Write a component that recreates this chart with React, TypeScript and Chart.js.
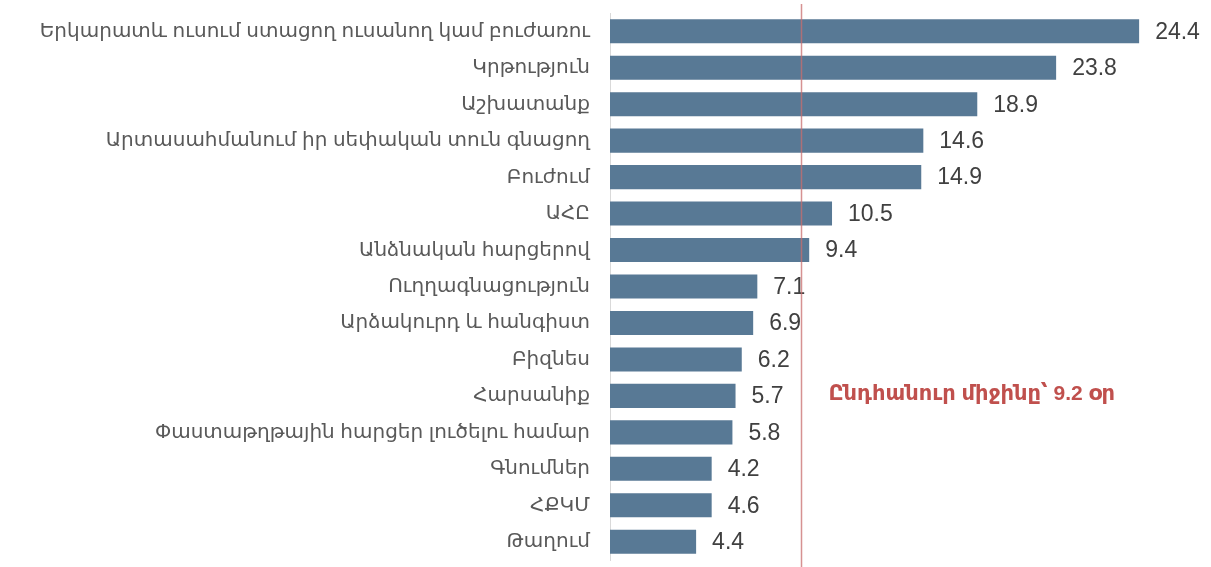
import React, { useEffect, useRef } from "react";
import { Chart, registerables } from "chart.js";

Chart.register(...registerables);

const categories = [
  "Երկարատև ուսում ստացող ուսանող կամ բուժառու",
  "Կրթություն",
  "Աշխատանք",
  "Արտասահմանում իր սեփական տուն գնացող",
  "Բուժում",
  "ԱՀԸ",
  "Անձնական հարցերով",
  "Ուղղագնացություն",
  "Արձակուրդ և հանգիստ",
  "Բիզնես",
  "Հարսանիք",
  "Փաստաթղթային հարցեր լուծելու համար",
  "Գնումներ",
  "ՀՔԿՄ",
  "Թաղում",
];

// bar lengths as drawn in the picture
const barValues = [25.5, 21.5, 17.7, 15.1, 15.0, 10.7, 9.6, 7.1, 6.9, 6.35, 6.05, 5.9, 4.9, 4.9, 4.15];
// value labels printed next to the bars
const valueLabels = ["24.4", "23.8", "18.9", "14.6", "14.9", "10.5", "9.4", "7.1", "6.9", "6.2", "5.7", "5.8", "4.2", "4.6", "4.4"];

const averageValue = 9.2;
const averageText = "Ընդհանուր միջինը՝ 9.2 օր";
const axisMax = 28;

const FONT = "'Liberation Sans', 'DejaVu Sans', Arial, sans-serif";

const overlayPlugin = {
  id: "overlay",
  afterDatasetsDraw(chart: any) {
    const ctx = chart.ctx;
    const meta = chart.getDatasetMeta(0);
    ctx.save();
    ctx.font = `23px ${FONT}`;
    ctx.fillStyle = "#404040";
    ctx.textAlign = "left";
    ctx.textBaseline = "middle";
    meta.data.forEach((bar: any, i: number) => {
      ctx.fillText(valueLabels[i], bar.x + 16, bar.y + 1);
    });
    const xs = chart.scales.x;
    const ys = chart.scales.y;
    const lx = Math.round(xs.getPixelForValue(averageValue)) + 0.5;
    ctx.strokeStyle = "rgba(200,110,110,0.75)";
    ctx.lineWidth = 1.5;
    ctx.beginPath();
    ctx.moveTo(lx, 4);
    ctx.lineTo(lx, chart.height);
    ctx.stroke();
    ctx.font = `bold 21px ${FONT}`;
    ctx.fillStyle = "#c0504d";
    ctx.fillText(averageText, lx + 27, ys.getPixelForValue(10) - 2);
    ctx.restore();
  },
};

export default function App() {
  const ref = useRef<HTMLCanvasElement>(null);
  useEffect(() => {
    if (!ref.current) return;
    const chart = new Chart(ref.current, {
      type: "bar",
      data: {
        labels: categories,
        datasets: [
          {
            data: barValues,
            backgroundColor: "#587995",
            barPercentage: 0.66,
            categoryPercentage: 1,
          },
        ],
      },
      options: {
        indexAxis: "y",
        responsive: false,
        animation: false,
        layout: { padding: { top: 13, bottom: 7, right: 20, left: 0 } },
        plugins: { legend: { display: false }, tooltip: { enabled: false } },
        scales: {
          x: { display: false, min: 0, max: axisMax },
          y: {
            afterFit(scale: any) {
              scale.width = 610;
              scale.paddingTop = 0;
              scale.paddingBottom = 0;
            },
            grid: { display: false, drawTicks: false },
            border: { display: true, color: "#d9d9d9", width: 1 },
            ticks: {
              color: "#595959",
              padding: 20,
              font: { family: FONT, size: 20 },
            },
          },
        },
      },
      plugins: [overlayPlugin],
    });
    return () => chart.destroy();
  }, []);
  return (
    <div style={{ position: "absolute", left: 0, top: 0, width: 1211, height: 567 }}>
      <canvas ref={ref} width={1211} height={567} />
    </div>
  );
}
